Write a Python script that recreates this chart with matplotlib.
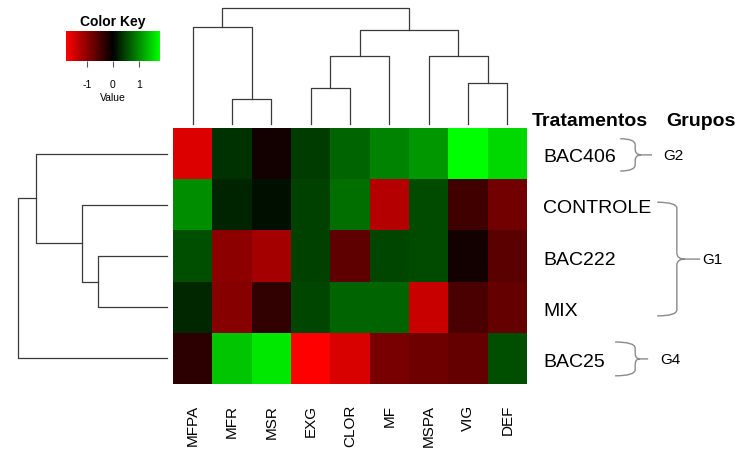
import numpy as np
import matplotlib
matplotlib.use("Agg")
import matplotlib.pyplot as plt
from matplotlib.colors import LinearSegmentedColormap
from matplotlib.path import Path
from matplotlib.patches import PathPatch

plt.rcParams['font.family'] = ['Liberation Sans', 'DejaVu Sans']

# data (display order, already clustered)
variaveis = ['MFPA', 'MFR', 'MSR', 'EXG', 'CLOR', 'MF', 'MSPA', 'VIG', 'DEF']
tratamentos = ['BAC406', 'CONTROLE', 'BAC222', 'MIX', 'BAC25']
bac406 = [-1.55, 0.35, -0.14, 0.42, 0.71, 0.92, 1.06, 1.80, 1.52]
controle = [0.99, 0.25, 0.11, 0.46, 0.78, -1.27, 0.53, -0.46, -0.81]
bac222 = [0.56, -0.99, -1.16, 0.46, -0.67, 0.49, 0.53, -0.14, -0.64]
mix = [0.28, -0.95, -0.35, 0.49, 0.71, 0.71, -1.41, -0.53, -0.71]
bac25 = [-0.32, 1.38, 1.62, -1.80, -1.52, -0.85, -0.78, -0.71, 0.56]

# merges: (child a, child b, height); ids >= n refer to earlier merges
col_merges = [(1, 2, 25), (3, 4, 36), (7, 8, 41), (10, 5, 68),
              (6, 11, 68), (0, 9, 97), (12, 13, 94), (14, 15, 116)]
row_merges = [(2, 3, 69), (1, 5, 85), (0, 6, 131), (7, 4, 149)]

grupos = ['G2', 'G1', 'G4']
grupo_linhas = [(0, 0), (1, 3), (4, 4)]

vlim = 1.8
cmap = LinearSegmentedColormap.from_list('rg', ['#ff0000', '#000000', '#00ff00'])

W, H = 737, 452
fig = plt.figure(figsize=(W / 100, H / 100), dpi=100)


def px_axes(x0, y0, x1, y1):
    return fig.add_axes([x0 / W, 1 - y1 / H, (x1 - x0) / W, (y1 - y0) / H])


def dendro(ax, merges, n, orient):
    pos = [i + 0.5 for i in range(n)]
    hts = [0] * n
    for a, b, h in merges:
        xa, xb = pos[a], pos[b]
        if orient == 'top':
            ax.plot([xa, xa, xb, xb], [hts[a], h, h, hts[b]], color='#3a3a3a', lw=0.9, clip_on=False)
        else:
            ax.plot([hts[a], h, h, hts[b]], [xa, xa, xb, xb], color='#3a3a3a', lw=0.9, clip_on=False)
        pos.append((xa + xb) / 2)
        hts.append(h)


# heatmap
data = np.array([bac406, controle, bac222, mix, bac25])
ax = px_axes(173, 129, 527, 385)
ax.pcolormesh(np.arange(len(variaveis) + 1), np.arange(len(tratamentos) + 1), data,
              cmap=cmap, vmin=-vlim, vmax=vlim)
ax.set_xlim(0, len(variaveis))
ax.set_ylim(len(tratamentos), 0)
ax.set_xticks([])
ax.set_yticks([])
for s in ax.spines.values():
    s.set_visible(False)

for i, v in enumerate(variaveis):
    ax.text(i + 0.5, 5.39, v, rotation=90, ha='center', va='top', fontsize=11, clip_on=False)
for j, t in enumerate(tratamentos):
    ax.text(9.41, j + 0.56, t, ha='left', va='center', fontsize=14, clip_on=False)
ax.text(9.13, -0.14, 'Tratamentos', ha='left', va='center', fontsize=14, fontweight='bold')
ax.text(12.53, -0.14, 'Grupos', ha='left', va='center', fontsize=14, fontweight='bold')

# braces: arm start, vertical x, tip x, text x; top and bottom inset (rows)
brace_x = [(11.37, 11.75, 12.18, 12.46), (12.31, 12.81, 13.40, 13.45), (11.24, 11.75, 12.08, 12.38)]
brace_pad = [(0.21, 0.16), (0.45, 0.33), (0.18, 0.16)]


def brace(ax, x0, x1, xt, y0, y1):
    ym = (y0 + y1) / 2
    r = min(0.12, (y1 - y0) / 4)
    xm = x1 + (xt - x1) * 0.35
    verts = [(x0, y0), (x1, y0), (x1, y0 + r),
             (x1, ym - r),
             (x1, ym), (xm, ym),
             (xt, ym),
             (xm, ym), (x1, ym), (x1, ym + r),
             (x1, y1 - r),
             (x1, y1), (x0, y1)]
    codes = [Path.MOVETO, Path.CURVE3, Path.CURVE3,
             Path.LINETO,
             Path.CURVE3, Path.CURVE3,
             Path.LINETO,
             Path.MOVETO, Path.CURVE3, Path.CURVE3,
             Path.LINETO,
             Path.CURVE3, Path.CURVE3]
    ax.add_patch(PathPatch(Path(verts, codes), fill=False, edgecolor='#8a8a8a', lw=1, clip_on=False))


for g, (a, b), (x0, x1, xt, xl), (pt, pb) in zip(grupos, grupo_linhas, brace_x, brace_pad):
    brace(ax, x0, x1, xt, a + pt, b + 1 - pb)
    ax.text(xl, (a + pt + b + 1 - pb) / 2, g, ha='left', va='center', fontsize=11)

# column dendrogram
axc = px_axes(173, 9, 527, 125)
dendro(axc, col_merges, len(variaveis), 'top')
axc.set_xlim(0, len(variaveis))
axc.set_ylim(0, 116)
axc.axis('off')

# row dendrogram
axr = px_axes(18, 129, 167, 385)
dendro(axr, row_merges, len(tratamentos), 'left')
axr.set_xlim(149, 0)
axr.set_ylim(len(tratamentos), 0)
axr.axis('off')

# color key
axk = px_axes(66, 32, 160, 62)
grad = np.linspace(-vlim, vlim, 256).reshape(1, -1)
axk.imshow(grad, cmap=cmap, vmin=-vlim, vmax=vlim, aspect='auto', extent=[-vlim, vlim, 0, 1])
axk.set_yticks([])
axk.set_xticks([-1, 0, 1])
axk.set_xticklabels(['-1', '0', '1'])
axk.tick_params(axis='x', length=4, width=0.8, color='#555555', pad=9, labelsize=7.5)
for s in axk.spines.values():
    s.set_visible(False)
axk.set_title('Color Key', fontsize=10, fontweight='bold', pad=4)
axk.set_xlabel('Value', fontsize=7.5, labelpad=2)

fig.savefig('out.png', dpi=100)
